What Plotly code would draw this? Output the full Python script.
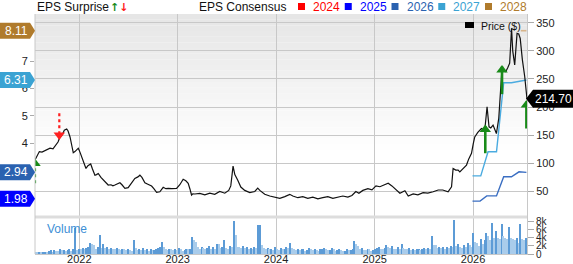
import numpy as np
import pandas as pd
import plotly.graph_objects as go

# ---------------- data ----------------
# price (decimal year, $)
price_t = [2021.550, 2021.571, 2021.594, 2021.621, 2021.652, 2021.682, 2021.703, 2021.733, 2021.753, 2021.784,
           2021.804, 2021.824, 2021.848, 2021.872, 2021.885, 2021.906, 2021.926, 2021.939, 2021.956, 2021.990,
           2022.007, 2022.024, 2022.048, 2022.068, 2022.088, 2022.116, 2022.134, 2022.159, 2022.175, 2022.193,
           2022.220, 2022.244, 2022.271, 2022.294, 2022.322, 2022.342, 2022.362, 2022.393, 2022.413, 2022.434,
           2022.464, 2022.497, 2022.525, 2022.545, 2022.565, 2022.596, 2022.616, 2022.637, 2022.667, 2022.697,
           2022.735, 2022.758, 2022.786, 2022.819, 2022.853, 2022.880, 2022.904, 2022.941, 2022.989, 2023.022,
           2023.056, 2023.083, 2023.107, 2023.124, 2023.141, 2023.154, 2023.175, 2023.225, 2023.276, 2023.327,
           2023.377, 2023.428, 2023.479, 2023.519, 2023.540, 2023.563, 2023.581, 2023.611, 2023.642, 2023.682,
           2023.733, 2023.784, 2023.814, 2023.835, 2023.885, 2023.936, 2023.987, 2024.038, 2024.089, 2024.139,
           2024.170, 2024.221, 2024.271, 2024.322, 2024.373, 2024.424, 2024.474, 2024.525, 2024.576, 2024.626,
           2024.677, 2024.728, 2024.769, 2024.809, 2024.840, 2024.880, 2024.931, 2024.972, 2025.013, 2025.053,
           2025.094, 2025.137, 2025.175, 2025.205, 2025.256, 2025.307, 2025.341, 2025.391, 2025.439, 2025.492,
           2025.540, 2025.594, 2025.645, 2025.692, 2025.713, 2025.746, 2025.781, 2025.797, 2025.824, 2025.848,
           2025.865, 2025.895, 2025.933, 2025.956, 2025.984, 2026.002, 2026.017, 2026.048, 2026.085, 2026.119,
           2026.142, 2026.162, 2026.180, 2026.203, 2026.237, 2026.261, 2026.271, 2026.294, 2026.311, 2026.332,
           2026.352, 2026.372, 2026.391, 2026.403, 2026.423, 2026.447, 2026.464, 2026.479, 2026.501, 2026.525,
           2026.548]
price_v = [106, 112, 121, 120, 122.5, 125, 127, 126, 131, 138,
           147, 150, 159, 161, 158, 147, 130, 119, 121, 127,
           120, 112, 100, 91, 96, 99, 90, 79, 80, 82,
           75, 70, 65, 61.5, 62, 60, 61.5, 64, 65.6, 62,
           55.7, 56.8, 64, 70, 73.4, 76, 79, 75, 65.6, 63,
           59.8, 55, 48.6, 49.6, 57.5, 55, 55.7, 55, 55.7, 62,
           71.7, 69, 64.6, 55, 43.8, 46, 45.6, 46.8, 44, 47,
           45, 50, 47, 52, 60, 95, 80, 70, 58, 52,
           48, 50, 56, 52, 45, 42, 40, 38, 41, 45,
           42, 39, 41, 38, 40, 37, 39, 41, 38, 40,
           42, 40, 43, 50, 47, 52, 55, 53, 60, 58.5,
           62, 64.6, 60, 55.7, 46.8, 51.4, 42, 45.6, 44, 47.9,
           47, 49.6, 52.7, 52.7, 51.4, 49.6, 58.5, 91, 88, 88,
           85, 90, 97, 108, 118, 135, 147, 155, 162, 159,
           200.7, 165, 163, 168, 153, 180, 207, 269, 266, 263,
           270, 278, 340, 300, 275, 331, 330, 322, 284, 254,
           214.70]

# EPS consensus lines (decimal year, EPS)
cons26_t = [2025.994, 2026.071, 2026.139, 2026.238, 2026.311, 2026.390, 2026.467, 2026.542]
cons26_v = [1.89, 1.89, 2.08, 2.08, 2.78, 2.78, 2.96, 2.94]
cons27_t = [2025.994, 2026.078, 2026.152, 2026.238, 2026.311, 2026.390, 2026.542]
cons27_v = [2.81, 2.81, 3.69, 3.69, 6.21, 6.21, 6.31]
cons28_t = [2026.485, 2026.542]
cons28_v = [8.11, 8.11]

# latest consensus labels
cons_years = ["2024", "2025", "2026", "2027", "2028"]
cons_last = {"2025": 1.98, "2026": 2.94, "2027": 6.31, "2028": 8.11}
last_price = 214.70

# EPS surprise arrows (decimal year, price from, price to)
surp_t = [2021.550, 2021.797, 2026.124, 2026.294, 2026.542]
surp_from = [64.6, 189, 118, 223, 162]
surp_to = [106, 144.5, 166, 272, 209.6]

# weekly volume (thousands)
vol_start = "2021-07-23"
vol_k = ([0.6, 0.5, 0.6, 0.4, 0.5, 0.6, 0.5, 0.7, 0.9, 0.6, 1.0, 0.8, 0.7, 1.2, 0.9, 1.0, 0.8, 0.9, 1.1, 0.8, 1.3]
         + [6.3]
         + [1.0, 1.3, 1.1, 1.5, 1.2, 1.4, 1.7]
         + [2.6, 2.5, 2.2]
         + [1.3, 1.8, 4.7, 1.5]
         + [2.5, 1.4, 1.8, 1.2, 1.5, 1.3, 1.1, 1.4, 1.2, 1.0, 1.3, 1.1, 0.9, 1.2, 1.0, 0.8]
         + [3.3]
         + [1.5, 1.0, 1.2, 0.9, 1.4, 1.0, 1.1, 0.8, 1.2, 0.9, 1.0, 1.1, 1.5, 1.8]
         + [3.0]
         + [1.6, 1.2, 1.0, 1.3, 1.1, 0.9, 1.2, 1.0, 1.4, 1.1, 0.8, 1.0, 1.3, 1.1, 1.2]
         + [4.2, 3.3, 2.8]
         + [1.6, 1.2, 1.8, 1.4, 1.1, 1.5, 2.0, 1.3, 1.6, 1.2, 2.5, 2.4]
         + [1.4, 1.8, 3.5, 1.5, 1.3]
         + [1.9, 1.6, 8.0, 4.6]
         + [1.8, 1.7, 1.5, 1.9, 1.4, 1.6, 1.3, 1.5, 1.2, 1.7, 1.4]
         + [7.0, 7.1]
         + [2.3, 1.4, 1.2, 1.5, 1.1, 1.3, 1.0, 1.6, 1.2, 0.9, 1.4, 1.1, 1.3, 1.8, 1.5]
         + [2.6]
         + [1.5, 1.2, 1.0, 1.3, 0.9, 1.1, 1.2, 0.8, 1.0, 1.4, 1.1, 0.9, 1.2, 1.0, 0.8, 1.1, 1.3,
            1.5, 1.2, 0.9, 1.0, 1.4, 1.1, 0.8, 0.9, 1.2, 1.0, 0.7, 0.8, 1.1, 0.9, 1.0, 1.2]
         + [3.1, 2.4, 1.9]
         + [1.2, 1.5, 1.0, 0.9, 1.3, 1.1, 0.8, 1.0, 1.2, 1.4]
         + [1.6, 1.3, 1.2, 1.5, 2.2, 1.8, 1.4, 2.0, 1.3, 1.1, 1.6, 1.2, 2.5, 1.4]
         + [1.3, 1.1, 1.4, 1.0, 1.2, 0.9, 1.1, 1.3, 1.0, 1.2, 1.5, 1.1, 1.4, 1.3]
         + [4.5]
         + [2.3, 2.2, 1.5, 1.8, 1.4, 1.6, 1.3, 1.7, 1.5, 1.9, 1.6, 8.2]
         + [2.0, 2.4, 1.7, 1.5, 2.1, 1.8, 2.6, 2.3, 1.6]
         + [5.0]
         + [2.8, 2.6, 2.0, 3.6, 2.4, 3.4]
         + [5.0, 4.3, 3.5, 7.5, 3.8, 5.5, 4.0, 3.6, 7.2, 4.3, 3.9, 3.6, 6.5,
            4.0, 3.7, 3.5, 3.8, 2.7, 7.3, 3.6, 3.5, 3.8])

year_ticks = [2022, 2023, 2024, 2025, 2026]
eps_ticks = [4, 5, 6, 7]
price_ticks = [50, 100, 150, 200, 250, 300, 350]
vol_ticks = [0, 2, 4, 6, 8]
vol_ticktext = ["0", "2k", "4k", "6k", "8k"]

# ---------------- helpers ----------------
def dec2date(t):
    y = int(np.floor(t))
    s = pd.Timestamp(year=y, month=1, day=1)
    e = pd.Timestamp(year=y + 1, month=1, day=1)
    return s + (e - s) * (t - y)

def dates(ts):
    return [dec2date(t) for t in ts]

FONT = "Liberation Sans, Arial, sans-serif"
COL = {"2024": "#FF0000", "2025": "#0000FF", "2026": "#2A62B0", "2027": "#3BA3D3", "2028": "#B07B2C"}
LINECOL = {"2026": "#3A6EC2", "2027": "#4AABE0", "2028": "#D7B48A"}

W, H = 573, 264
ML, MR, MT, MB = 35, 46, 14, 10
PH = H - MT - MB
PW = W - ML - MR
split = (H - MB - 217) / PH  # paper y of the price / volume split

fig = go.Figure()

# volume bars
vdates = pd.date_range(vol_start, periods=len(vol_k), freq="7D")
vcol = ["#5C9BD6" if (i > 0 and vol_k[i] >= vol_k[i - 1]) else "#A9CCEB" for i in range(len(vol_k))]
fig.add_trace(go.Bar(x=vdates, y=vol_k, marker=dict(color=vcol, line=dict(width=0)),
                     width=7 * 24 * 3600 * 1000 * 0.62, xaxis="x", yaxis="y3", showlegend=False,
                     hoverinfo="skip"))

# consensus lines
fig.add_trace(go.Scatter(x=dates(cons26_t), y=cons26_v, mode="lines", line=dict(color=LINECOL["2026"], width=1.4),
                         yaxis="y", showlegend=False))
fig.add_trace(go.Scatter(x=dates(cons27_t), y=cons27_v, mode="lines", line=dict(color=LINECOL["2027"], width=1.4),
                         yaxis="y", showlegend=False))
fig.add_trace(go.Scatter(x=dates(cons28_t), y=cons28_v, mode="lines", line=dict(color=LINECOL["2028"], width=1.6),
                         yaxis="y", showlegend=False))

# price line
fig.add_trace(go.Scatter(x=dates(price_t), y=price_v, mode="lines", line=dict(color="#111111", width=1.2),
                         yaxis="y2", showlegend=False))

# EPS surprise arrows
for t, a, b in zip(surp_t, surp_from, surp_to):
    up = b > a
    col = "#188A18" if up else "#FF2020"
    dotted = t < 2022
    d = dec2date(t)
    fig.add_trace(go.Scatter(x=[d, d], y=[a, b], mode="lines", yaxis="y2", showlegend=False,
                             line=dict(color=col, width=2.2 if dotted else 2.6, dash="dot" if dotted else "solid")))
    fig.add_trace(go.Scatter(x=[d], y=[b - (6 if up else -6)], mode="markers", yaxis="y2", showlegend=False,
                             marker=dict(symbol="triangle-up" if up else "triangle-down", size=10, color=col)))

# ---------------- shapes ----------------
shapes = []
# background gradient in price panel
top_px, end_px = 14, 150
nb = 24
for k in range(nb):
    y0 = top_px + (end_px - top_px) * k / nb
    y1 = top_px + (end_px - top_px) * (k + 1) / nb
    g = int(round(229 + (255 - 229) * (k + 0.5) / nb))
    shapes.append(dict(type="rect", xref="paper", yref="paper", x0=0, x1=1,
                       y0=(H - MB - y1) / PH, y1=(H - MB - y0) / PH,
                       fillcolor=f"rgb({g},{g},{g})", line=dict(width=0), layer="below"))
# split line
shapes.append(dict(type="line", xref="paper", yref="paper", x0=0, x1=1, y0=split, y1=split,
                   line=dict(color="#DDDDDD", width=3), layer="above"))
# left frame line
shapes.append(dict(type="line", xref="paper", yref="paper", x0=0, x1=0, y0=0, y1=1,
                   line=dict(color="#C8C8C8", width=1)))

annotations = []
# left EPS tags
for yr in ["2028", "2027", "2026", "2025"]:
    v = cons_last[yr]
    shapes.append(dict(type="path", xref="paper", yref="y", xsizemode="pixel", ysizemode="pixel",
                       xanchor=0, yanchor=v, path="M 0,0 L -5,8 L -35,8 L -35,-8 L -5,-8 Z",
                       fillcolor=COL[yr], line=dict(width=0), layer="above"))
    annotations.append(dict(xref="paper", yref="y", x=0, y=v, xshift=-19, xanchor="center", yanchor="middle",
                            text=f"{v:.2f}", showarrow=False, font=dict(family=FONT, size=12, color="white")))
# right price tag
shapes.append(dict(type="path", xref="paper", yref="y2", xsizemode="pixel", ysizemode="pixel",
                   xanchor=1, yanchor=last_price, path="M -1,0 L 6,9 L 47,9 L 47,-9 L 6,-9 Z",
                   fillcolor="#000000", line=dict(width=0), layer="above"))
annotations.append(dict(xref="paper", yref="y2", x=1, y=last_price, xshift=26, xanchor="center",
                        yanchor="middle", text=f"{last_price:.2f}", showarrow=False,
                        font=dict(family=FONT, size=12, color="white")))

def px2x(px):
    return (px - ML) / PW

def py2y(py):
    return (H - MB - py) / PH

# top legend
annotations.append(dict(xref="paper", yref="paper", x=px2x(35), y=py2y(7), xanchor="left", yanchor="middle",
                        text="EPS Surprise", showarrow=False, font=dict(family=FONT, size=12, color="#111")))
annotations.append(dict(xref="paper", yref="paper", x=px2x(108), y=py2y(7), xanchor="left", yanchor="middle",
                        text="<b><span style='color:#1A8A1A'>↑</span><span style='color:#FF1A1A'>↓</span></b>",
                        showarrow=False, font=dict(family="DejaVu Sans", size=11)))
annotations.append(dict(xref="paper", yref="paper", x=px2x(197), y=py2y(7), xanchor="left", yanchor="middle",
                        text="EPS Consensus", showarrow=False, font=dict(family=FONT, size=12, color="#111")))
for i, yr in enumerate(cons_years):
    tx = 311 + 46.75 * i
    shapes.append(dict(type="rect", xref="paper", yref="paper", x0=px2x(tx - 13), x1=px2x(tx - 6),
                       y0=py2y(10), y1=py2y(3), fillcolor=COL[yr], line=dict(width=0)))
    annotations.append(dict(xref="paper", yref="paper", x=px2x(tx), y=py2y(7), xanchor="left", yanchor="middle",
                            text=yr, showarrow=False, font=dict(family=FONT, size=12, color=COL[yr])))
# price legend
shapes.append(dict(type="rect", xref="paper", yref="paper", x0=px2x(465), x1=px2x(474),
                   y0=py2y(28), y1=py2y(22), fillcolor="#000", line=dict(width=0)))
annotations.append(dict(xref="paper", yref="paper", x=px2x(479), y=py2y(25.5), xanchor="left", yanchor="middle",
                        text="Price ($)", showarrow=False, font=dict(family=FONT, size=10.5, color="#111")))
# volume label
annotations.append(dict(xref="paper", yref="paper", x=px2x(45), y=py2y(229), xanchor="left", yanchor="middle",
                        text="Volume", showarrow=False, font=dict(family=FONT, size=12, color="#3D8FD6")))

fig.update_layout(
    width=W, height=H, margin=dict(l=ML, r=MR, t=MT, b=MB),
    paper_bgcolor="white", plot_bgcolor="white",
    showlegend=False, bargap=0, shapes=shapes, annotations=annotations,
    font=dict(family=FONT, size=11, color="#222"),
    xaxis=dict(type="date", range=[dec2date(2021.550), dec2date(2026.548)],
               tickvals=[pd.Timestamp(year=y, month=1, day=1) for y in year_ticks],
               ticktext=[str(y) for y in year_ticks], showgrid=True, gridcolor="#C8C8C8", gridwidth=1,
               ticks="", showline=True, linecolor="#C8C8C8", anchor="y3", automargin=False,
               ticklabelstandoff=-5,
               tickfont=dict(family=FONT, size=11, color="#222"), zeroline=False),
    yaxis=dict(domain=[split, 1], range=[1.31, 8.72], side="left", tickvals=eps_ticks,
               showgrid=False, zeroline=False, ticks="outside", ticklen=4, tickcolor="#AAAAAA",
               showline=False, automargin=False, tickfont=dict(family=FONT, size=11, color="#222")),
    yaxis2=dict(overlaying="y", side="right", range=[4.7, 365.5], tickvals=price_ticks,
                showgrid=True, gridcolor="#C8C8C8", zeroline=False, ticks="outside", ticklen=6,
                tickcolor="#AAAAAA", showline=True, linecolor="#C8C8C8", automargin=False,
                tickfont=dict(family=FONT, size=11, color="#222")),
    yaxis3=dict(domain=[0, split], range=[0, 9], side="right", anchor="x", tickvals=vol_ticks,
                ticktext=vol_ticktext, showgrid=False, zeroline=False, ticks="outside",
                ticklen=6, tickcolor="#AAAAAA", showline=True, linecolor="#C8C8C8", automargin=False,
                tickfont=dict(family=FONT, size=10, color="#222")),
)

fig.write_html("out.html")
